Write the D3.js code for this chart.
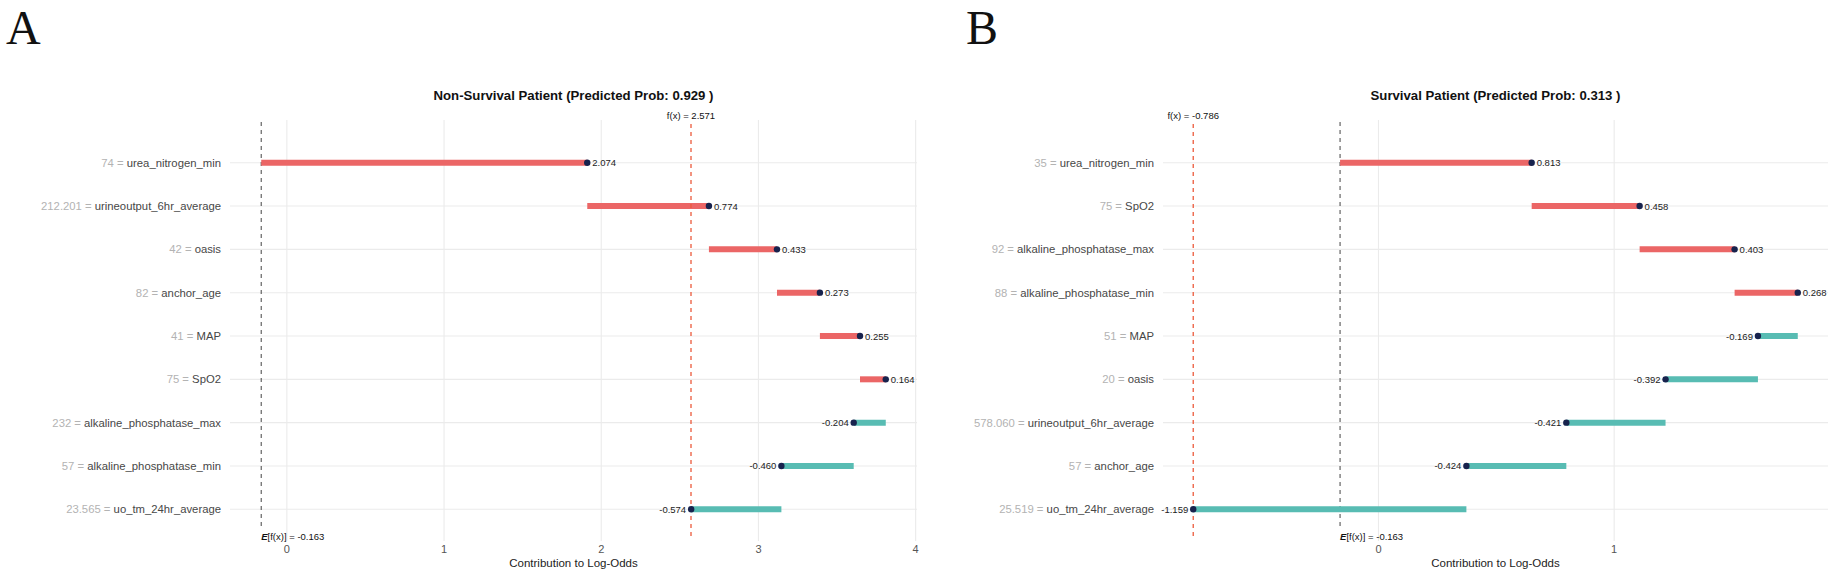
<!DOCTYPE html>
<html>
<head>
<meta charset="utf-8">
<script src="https://cdn.jsdelivr.net/npm/d3@7"></script>
<style>
  body { margin: 0; background: #fff; }
  svg text { font-family: "Liberation Sans", Arial, sans-serif; }
</style>
</head>
<body>
<div id="chart"></div>
<script>
// ---- data: panel A (non-survival) ----
const featuresA = ["urea_nitrogen_min", "urineoutput_6hr_average", "oasis", "anchor_age", "MAP",
    "SpO2", "alkaline_phosphatase_max", "alkaline_phosphatase_min", "uo_tm_24hr_average"];
const featValsA = ["74", "212.201", "42", "82", "41", "75", "232", "57", "23.565"];
const shapA = [2.074, 0.774, 0.433, 0.273, 0.255, 0.164, -0.204, -0.460, -0.574];
const baseA = -0.163;
const fxA = 2.571;
const ticksA = [0, 1, 2, 3, 4];

// ---- data: panel B (survival) ----
const featuresB = ["urea_nitrogen_min", "SpO2", "alkaline_phosphatase_max", "alkaline_phosphatase_min",
    "MAP", "oasis", "urineoutput_6hr_average", "anchor_age", "uo_tm_24hr_average"];
const featValsB = ["35", "75", "92", "88", "51", "20", "578.060", "57", "25.519"];
const shapB = [0.813, 0.458, 0.403, 0.268, -0.169, -0.392, -0.421, -0.424, -1.159];
const baseB = -0.163;
const fxB = -0.786;
const ticksB = [0, 1];

const titles = ["Non-Survival Patient (Predicted Prob: 0.929 )", "Survival Patient (Predicted Prob: 0.313 )"];
const panelLetters = ["A", "B"];

const W = 1835, H = 577;
const posColor = "#EB6666", negColor = "#58BCB3", dotColor = "#17224d";

// plain hyphen instead of unicode minus, like the original
const fmt = v => d3.format(".3f")(v).replace("\u2212", "-");

const svg = d3.select("#chart").append("svg")
    .attr("width", W)
    .attr("height", H);

// panel letters
svg.selectAll(".letter")
    .data(panelLetters)
    .enter().append("text")
    .attr("x", (d, i) => i === 0 ? 6 : 966)
    .attr("y", 44)
    .style("font-family", "'Liberation Serif', 'DejaVu Serif', serif")
    .style("font-size", "48px")
    .attr("fill", "#111")
    .text(d => d);

function drawPanel(cfg) {
    // build waterfall rows
    let run = cfg.base;
    let rows = cfg.features.map((f, i) => {
        let start = run;
        run += cfg.shap[i];
        return {feature: f, val: cfg.featVals[i], shap: cfg.shap[i], start: start, end: run};
    });

    let all = [cfg.base].concat(rows.map(d => d.end));
    let lo = d3.min(all), hi = d3.max(all);
    let pad = (hi - lo) * 0.05;

    let x = d3.scaleLinear()
        .domain([lo - pad, hi + pad])
        .range([cfg.left, cfg.right]);

    let y = d3.scalePoint()
        .domain(cfg.features)
        .range([162.7, 509.3]);

    let g = svg.append("g");

    // grid
    g.selectAll(".vgrid")
        .data(cfg.ticks)
        .enter().append("line")
        .attr("x1", d => x(d)).attr("x2", d => x(d))
        .attr("y1", cfg.top).attr("y2", cfg.bottom)
        .attr("stroke", "#ebebeb").attr("stroke-width", 1.1);

    g.selectAll(".hgrid")
        .data(cfg.features)
        .enter().append("line")
        .attr("x1", cfg.left).attr("x2", cfg.right)
        .attr("y1", d => y(d)).attr("y2", d => y(d))
        .attr("stroke", "#ebebeb").attr("stroke-width", 1.1);

    // tick labels
    g.selectAll(".tick")
        .data(cfg.ticks)
        .enter().append("text")
        .attr("x", d => x(d))
        .attr("y", 553)
        .attr("text-anchor", "middle")
        .style("font-size", "11px")
        .attr("fill", "#555")
        .text(d => d);

    // axis title
    g.append("text")
        .attr("x", (cfg.left + cfg.right) / 2)
        .attr("y", 567)
        .attr("text-anchor", "middle")
        .style("font-size", "11.5px")
        .attr("fill", "#222")
        .text("Contribution to Log-Odds");

    // title
    g.append("text")
        .attr("x", (cfg.left + cfg.right) / 2)
        .attr("y", 99.5)
        .attr("text-anchor", "middle")
        .style("font-size", "13.2px")
        .style("font-weight", "bold")
        .attr("fill", "#111")
        .text(cfg.title);

    // category labels
    let lab = g.selectAll(".cat")
        .data(rows)
        .enter().append("text")
        .attr("x", cfg.left - 9)
        .attr("y", d => y(d.feature) + 4)
        .attr("text-anchor", "end")
        .style("font-size", "11.3px");
    lab.append("tspan").attr("fill", "#b3b3b3").text(d => d.val + " = ");
    lab.append("tspan").attr("fill", "#474747").text(d => d.feature);

    // base line E[f(x)]
    g.append("line")
        .attr("x1", x(cfg.base)).attr("x2", x(cfg.base))
        .attr("y1", cfg.top + 2).attr("y2", 529)
        .attr("stroke", "#555").attr("stroke-width", 1.1)
        .attr("stroke-dasharray", "4,4");

    // bars
    g.selectAll(".bar")
        .data(rows)
        .enter().append("line")
        .attr("x1", d => x(d.start)).attr("x2", d => x(d.end))
        .attr("y1", d => y(d.feature)).attr("y2", d => y(d.feature))
        .attr("stroke", d => d.shap >= 0 ? posColor : negColor)
        .attr("stroke-width", 6);

    // f(x) line
    g.append("line")
        .attr("x1", x(cfg.fx)).attr("x2", x(cfg.fx))
        .attr("y1", cfg.top + 4).attr("y2", 540)
        .attr("stroke", "#EC5A3C").attr("stroke-width", 1.3)
        .attr("stroke-dasharray", "4,4");

    // dots
    g.selectAll(".dot")
        .data(rows)
        .enter().append("circle")
        .attr("cx", d => x(d.end))
        .attr("cy", d => y(d.feature))
        .attr("r", 3.2)
        .attr("fill", dotColor);

    // value labels
    g.selectAll(".val")
        .data(rows)
        .enter().append("text")
        .attr("x", d => d.shap >= 0 ? x(d.end) + 5 : x(d.end) - 5)
        .attr("y", d => y(d.feature) + 3.5)
        .attr("text-anchor", d => d.shap >= 0 ? "start" : "end")
        .style("font-size", "9.5px")
        .attr("fill", "#222")
        .text(d => fmt(d.shap));

    // annotations
    g.append("text")
        .attr("x", x(cfg.fx))
        .attr("y", 119)
        .attr("text-anchor", "middle")
        .style("font-size", "9.5px")
        .attr("fill", "#111")
        .text("f(x) = " + fmt(cfg.fx));

    let e = g.append("text")
        .attr("x", x(cfg.base))
        .attr("y", 539.5)
        .style("font-size", "9.5px")
        .attr("fill", "#111");
    e.append("tspan").style("font-weight", "bold").style("font-style", "italic").text("E");
    e.append("tspan").text("[f(x)] = " + fmt(cfg.base));
}

drawPanel({
    features: featuresA, featVals: featValsA, shap: shapA, base: baseA, fx: fxA,
    ticks: ticksA, title: titles[0], left: 230, right: 917, top: 120, bottom: 541
});

drawPanel({
    features: featuresB, featVals: featValsB, shap: shapB, base: baseB, fx: fxB,
    ticks: ticksB, title: titles[1], left: 1163, right: 1828, top: 120, bottom: 541
});
</script>
</body>
</html>
